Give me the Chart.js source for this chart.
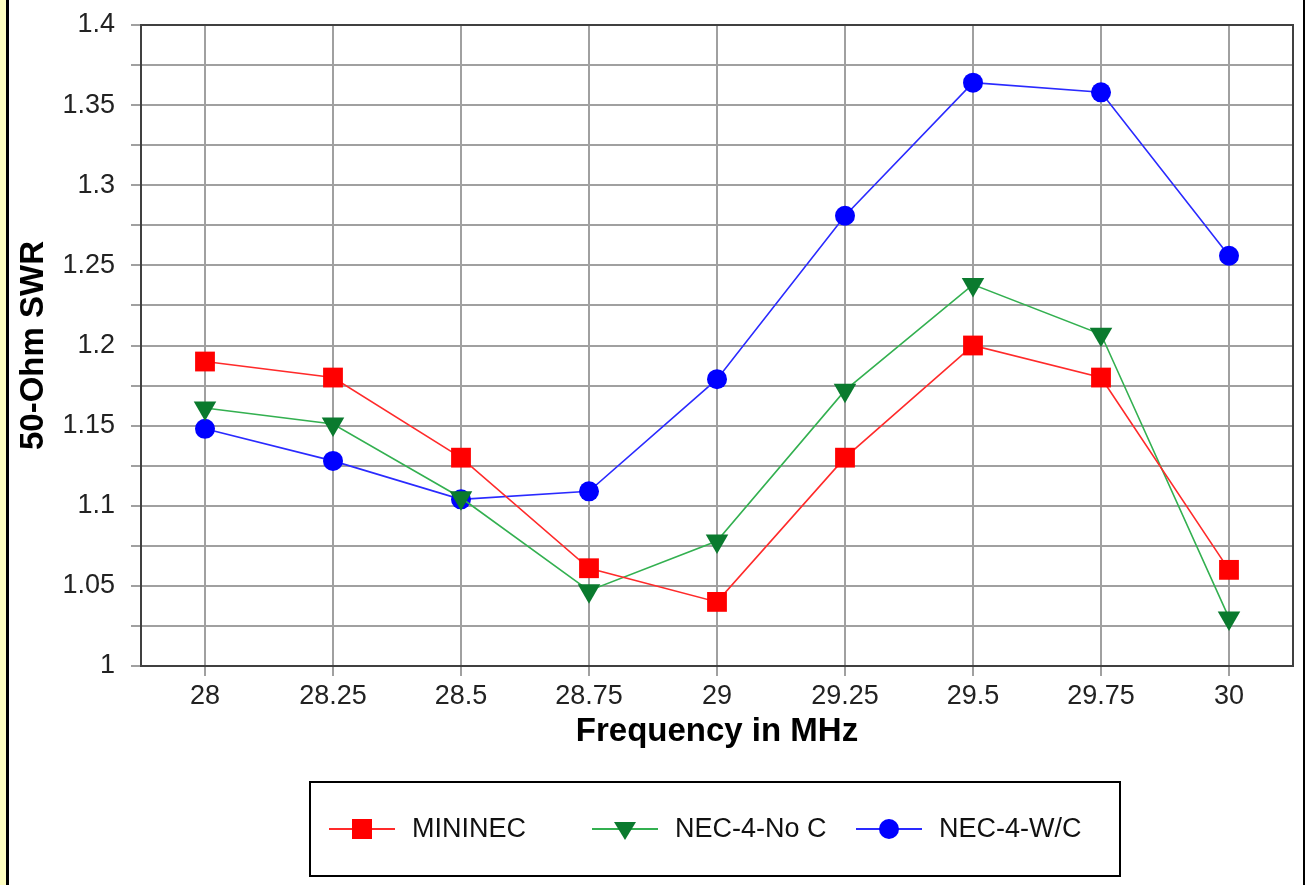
<!DOCTYPE html>
<html>
<head>
<meta charset="utf-8">
<script src="https://cdn.jsdelivr.net/npm/chart.js"></script>
<style>
  html, body { margin: 0; padding: 0; background: #fff; }
  #wrap { position: relative; width: 1305px; height: 885px; overflow: hidden; }
  #swrChart { position: absolute; left: 0; top: 0; }
  .edge { position: absolute; top: 0; height: 885px; }
</style>
</head>
<body>
<div id="wrap">
  <canvas id="swrChart" width="1305" height="885"></canvas>
  <div class="edge" style="left:0;width:6px;background:#ffffc0"></div>
  <div class="edge" style="left:6px;width:3px;background:#000"></div>
  <div class="edge" style="left:1303px;width:2px;background:#000"></div>
</div>
<script>
// frequencies (MHz)
const freqs = ['28','28.25','28.5','28.75','29','29.25','29.5','29.75','30'];

// 50-ohm SWR per model
const mininec = [1.19, 1.18, 1.13, 1.061, 1.04, 1.13, 1.2, 1.18, 1.06];
const necNoC  = [1.161, 1.151, 1.105, 1.047, 1.078, 1.172, 1.238, 1.207, 1.03];
const necWC   = [1.148, 1.128, 1.104, 1.109, 1.179, 1.281, 1.364, 1.358, 1.256];

// y axis labels (every other tick is unlabeled)
const yTickLabels = ['1','1.05','1.1','1.15','1.2','1.25','1.3','1.35','1.4'];

const FONT = "'Liberation Sans', Arial, sans-serif";

// frame around the plot (top and right edges)
const framePlugin = {
  id: 'frame',
  beforeDatasetsDraw(chart) {
    const a = chart.chartArea, c = chart.ctx;
    c.save();
    c.strokeStyle = '#404040';
    c.lineWidth = 2;
    c.strokeRect(a.left, a.top, a.right - a.left, a.bottom - a.top);
    c.restore();
  }
};

// boxed legend below the axis title
function drawMarker(c, style, x, y, color) {
  c.fillStyle = color;
  c.beginPath();
  if (style === 'rect') {
    c.rect(x - 10, y - 10, 20, 20);
  } else if (style === 'triangle') {
    c.moveTo(x - 11, y - 7);
    c.lineTo(x + 11, y - 7);
    c.lineTo(x, y + 11);
    c.closePath();
  } else {
    c.arc(x, y, 10, 0, Math.PI * 2);
  }
  c.fill();
}

const legendPlugin = {
  id: 'boxLegend',
  afterDraw(chart) {
    const c = chart.ctx;
    const box = {x: 310, y: 782, w: 810, h: 94};
    const starts = [329, 592, 856];
    const cy = box.y + box.h / 2;
    c.save();
    c.strokeStyle = '#000';
    c.lineWidth = 2;
    c.strokeRect(box.x, box.y, box.w, box.h);
    c.font = '27px ' + FONT;
    c.textBaseline = 'middle';
    c.textAlign = 'left';
    chart.data.datasets.forEach((ds, i) => {
      const x0 = starts[i];
      c.strokeStyle = ds.borderColor;
      c.lineWidth = 2;
      c.beginPath();
      c.moveTo(x0, cy);
      c.lineTo(x0 + 66, cy);
      c.stroke();
      drawMarker(c, ds.pointStyle, x0 + 33, cy, ds.pointBackgroundColor);
      c.fillStyle = '#111';
      c.fillText(ds.label, x0 + 83, cy + 1);
    });
    c.restore();
  }
};

new Chart(document.getElementById('swrChart'), {
  type: 'line',
  data: {
    labels: freqs,
    datasets: [
      {
        label: 'MININEC',
        data: mininec,
        borderColor: '#ff2a2a',
        borderWidth: 1.6,
        pointStyle: 'rect',
        pointRadius: 14,
        pointBackgroundColor: '#ff0000',
        pointBorderColor: '#ff0000',
        pointBorderWidth: 0,
        tension: 0
      },
      {
        label: 'NEC-4-No C',
        data: necNoC,
        borderColor: '#33b050',
        borderWidth: 1.6,
        pointStyle: 'triangle',
        pointRotation: 180,
        pointRadius: 13,
        pointBackgroundColor: '#0a7a2e',
        pointBorderColor: '#0a7a2e',
        pointBorderWidth: 0,
        tension: 0
      },
      {
        label: 'NEC-4-W/C',
        data: necWC,
        borderColor: '#2a2aff',
        borderWidth: 1.6,
        pointStyle: 'circle',
        pointRadius: 10,
        pointBackgroundColor: '#0000ff',
        pointBorderColor: '#0000ff',
        pointBorderWidth: 0,
        tension: 0
      }
    ]
  },
  options: {
    responsive: false,
    animation: false,
    devicePixelRatio: 1,
    layout: { autoPadding: false, padding: { left: 0, top: 25, right: 12, bottom: 119 } },
    plugins: {
      legend: { display: false },
      tooltip: { enabled: false }
    },
    scales: {
      x: {
        type: 'category',
        offset: true,
        afterFit(scale) { scale.height = 100; scale.paddingLeft = 0; scale.paddingRight = 0; },
        grid: {
          offset: false,
          color: '#a0a0a0',
          lineWidth: 2,
          tickLength: 10,
          tickColor: '#a0a0a0',
          tickWidth: 2
        },
        border: { color: '#404040', width: 2 },
        ticks: {
          color: '#222',
          padding: 4,
          maxRotation: 0,
          font: { family: FONT, size: 27 }
        },
        title: {
          display: true,
          text: 'Frequency in MHz',
          color: '#000',
          padding: { top: 0, bottom: 14 },
          font: { family: FONT, size: 33, weight: 'bold' }
        }
      },
      y: {
        min: 1,
        max: 1.4,
        afterFit(scale) { scale.width = 141; scale.paddingTop = 0; scale.paddingBottom = 0; },
        grid: {
          color: '#a0a0a0',
          lineWidth: 2,
          tickLength: 10,
          tickColor: '#a0a0a0',
          tickWidth: 2
        },
        border: { color: '#404040', width: 2 },
        ticks: {
          stepSize: 0.025,
          autoSkip: false,
          color: '#222',
          padding: 16,
          font: { family: FONT, size: 27 },
          callback: (v, i) => (i % 2 === 0 ? yTickLabels[i / 2] : '')
        },
        title: {
          display: true,
          text: '50-Ohm SWR',
          color: '#000',
          padding: { top: 14, bottom: 0 },
          font: { family: FONT, size: 33, weight: 'bold' }
        }
      }
    }
  },
  plugins: [framePlugin, legendPlugin]
});
</script>
</body>
</html>
